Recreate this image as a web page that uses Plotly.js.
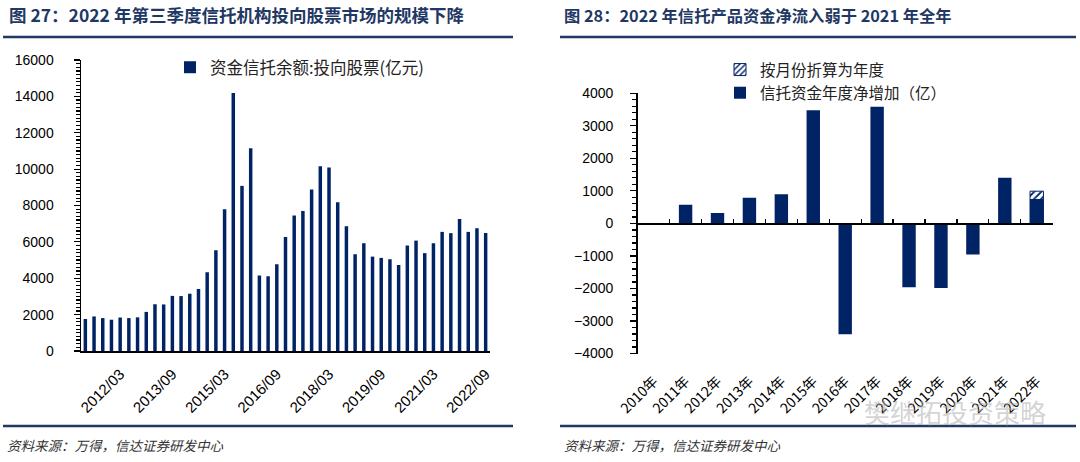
<!DOCTYPE html>
<html>
<head>
<meta charset="utf-8">
<script src="https://cdn.plot.ly/plotly-3.0.1.min.js"></script>
<style>html,body{margin:0;padding:0;background:#fff;}#chart{width:1080px;height:462px;}</style>
</head>
<body>
<div id="chart"></div>
<script>
// ---- Left chart data: 资金信托余额:投向股票(亿元), quarterly ----
const quarters = [
  '2011/03','2011/06','2011/09','2011/12',
  '2012/03','2012/06','2012/09','2012/12',
  '2013/03','2013/06','2013/09','2013/12',
  '2014/03','2014/06','2014/09','2014/12',
  '2015/03','2015/06','2015/09','2015/12',
  '2016/03','2016/06','2016/09','2016/12',
  '2017/03','2017/06','2017/09','2017/12',
  '2018/03','2018/06','2018/09','2018/12',
  '2019/03','2019/06','2019/09','2019/12',
  '2020/03','2020/06','2020/09','2020/12',
  '2021/03','2021/06','2021/09','2021/12',
  '2022/03','2022/06','2022/09'
];
const stockTrust = [
  1760, 1900, 1810, 1720,
  1840, 1810, 1850, 2150,
  2570, 2560, 3030, 3020,
  3150, 3410, 4330, 5540,
  7800, 14180, 9080, 11150,
  4150, 4110, 4770, 6270,
  7450, 7700, 8880, 10160,
  10090, 8180, 6860, 5320,
  5925, 5190, 5120, 5045,
  4730, 5800, 6070, 5380,
  5925, 6550, 6480, 7260,
  6550, 6750, 6490
];
const leftTickLabels = ['2012/03','2013/09','2015/03','2016/09','2018/03','2019/09','2021/03','2022/09'];

// ---- Right chart data: 信托资金年度净增加（亿） ----
const years = ['2010年','2011年','2012年','2013年','2014年','2015年','2016年','2017年','2018年','2019年','2020年','2021年','2022年'];
const netFlow = [0, 570, 320, 790, 900, 3480, -3410, 3590, -1960, -1990, -960, 1400, 750];
const annualized = [null, null, null, null, null, null, null, null, null, null, null, null, 990];

const navy = '#002366';
const titleColor = '#1F3864';
const axisFont = {family: 'Liberation Sans, Arial, sans-serif', size: 14, color: '#000'};
const cjk = 'Noto Sans CJK SC, sans-serif';

const W = 1080, H = 462;
const px = v => v / W;
const py = v => 1 - v / H;

const traces = [
  {
    type: 'bar', name: '资金信托余额:投向股票(亿元)',
    x: quarters, y: stockTrust,
    xaxis: 'x', yaxis: 'y', width: 0.4,
    marker: {color: navy},
    legend: 'legend', hoverinfo: 'skip'
  },
  {
    type: 'bar', name: '按月份折算为年度',
    x: years, y: annualized,
    xaxis: 'x2', yaxis: 'y2', width: 0.42,
    marker: {color: '#ffffff', line: {color: navy, width: 1},
             pattern: {shape: '/', fgcolor: navy, bgcolor: '#ffffff', size: 5, solidity: 0.35}},
    legend: 'legend2', hoverinfo: 'skip'
  },
  {
    type: 'bar', name: '信托资金年度净增加（亿）',
    x: years, y: netFlow,
    xaxis: 'x2', yaxis: 'y2', width: 0.42,
    marker: {color: navy},
    legend: 'legend2', hoverinfo: 'skip'
  },
  {
    type: 'scatter', mode: 'markers', x: years, y: netFlow,
    xaxis: 'x3', yaxis: 'y2', marker: {opacity: 0},
    showlegend: false, hoverinfo: 'skip'
  }
];

const rDomY = [py(353.5), py(93.3)];

const layout = {
  width: W, height: H,
  margin: {l: 0, r: 0, t: 0, b: 0},
  paper_bgcolor: '#fff', plot_bgcolor: 'rgba(0,0,0,0)',
  barmode: 'overlay',
  showlegend: true,
  xaxis: {
    domain: [px(81), px(490)], anchor: 'y', type: 'category',
    categoryorder: 'array', categoryarray: quarters,
    range: [-0.5, quarters.length - 0.5],
    tickmode: 'array', tickvals: leftTickLabels, ticktext: leftTickLabels,
    tickangle: -45, ticks: '', showline: true, linecolor: '#000', linewidth: 1.5,
    showgrid: false, tickfont: {family: 'Liberation Sans, Arial, sans-serif', size: 15, color: '#000'},
    ticklabelstandoff: 7, automargin: false
  },
  yaxis: {
    domain: [py(351), py(60)], anchor: 'x',
    range: [0, 16000], dtick: 2000, tick0: 0, tickformat: 'd',
    ticks: 'outside', ticklen: 6, tickcolor: '#000', tickwidth: 1.2,
    minor: {dtick: 200, tick0: 0, ticks: 'outside', ticklen: 4, tickcolor: '#000', tickwidth: 1.2, showgrid: false},
    showline: true, linecolor: '#000', linewidth: 1.5,
    showgrid: false, zeroline: false, tickfont: axisFont,
    ticklabelstandoff: 17, automargin: false
  },
  xaxis2: {
    domain: [px(637.7), px(1052.7)], anchor: 'free', position: (rDomY[0] + rDomY[1]) / 2,
    type: 'category', categoryorder: 'array', categoryarray: years,
    range: [-0.5, years.length - 0.5],
    showticklabels: false, ticks: 'inside', tickson: 'boundaries', ticklen: 4,
    tickcolor: '#000', tickwidth: 1.2,
    showline: true, linecolor: '#000', linewidth: 1.5, showgrid: false, automargin: false
  },
  xaxis3: {
    domain: [px(637.7), px(1052.7)], anchor: 'y2', overlaying: 'x2',
    type: 'category', categoryorder: 'array', categoryarray: years,
    range: [-0.5, years.length - 0.5],
    tickangle: -45, ticks: '', showline: false, showgrid: false,
    tickfont: {family: cjk, size: 14, color: '#000'},
    ticklabelstandoff: 16, automargin: false
  },
  yaxis2: {
    domain: rDomY, anchor: 'x2', position: px(637.7),
    range: [-4000, 4000], dtick: 1000, tick0: 0,
    ticks: 'outside', ticklen: 6, tickcolor: '#000', tickwidth: 1.2,
    minor: {dtick: 200, tick0: 0, ticks: 'outside', ticklen: 4, tickcolor: '#000', tickwidth: 1.2, showgrid: false},
    showline: true, linecolor: '#000', linewidth: 1.5,
    showgrid: false, zeroline: false, tickfont: axisFont,
    ticklabelstandoff: 14, automargin: false
  },
  legend: {
    x: px(170), y: py(50), xanchor: 'left', yanchor: 'top',
    bgcolor: 'rgba(0,0,0,0)', font: {family: cjk, size: 16.5, color: '#222'},
    itemclick: false
  },
  legend2: {
    x: px(720), y: py(53), xanchor: 'left', yanchor: 'top',
    bgcolor: 'rgba(0,0,0,0)', font: {family: cjk, size: 15.5, color: '#222'},
    traceorder: 'normal', tracegroupgap: 0, itemclick: false
  },
  annotations: [
    {text: '图 27：2022 年第三季度信托机构投向股票市场的规模下降', x: px(7), y: py(15),
     xref: 'paper', yref: 'paper', xanchor: 'left', yanchor: 'middle', showarrow: false,
     font: {family: cjk, size: 17.5, color: titleColor, weight: 'bold'}},
    {text: '图 28：2022 年信托产品资金净流入弱于 2021 年全年', x: px(562), y: py(15),
     xref: 'paper', yref: 'paper', xanchor: 'left', yanchor: 'middle', showarrow: false,
     font: {family: cjk, size: 16.3, color: titleColor, weight: 'bold'}},
    {text: '资料来源：万得，信达证券研发中心', x: px(5), y: py(445),
     xref: 'paper', yref: 'paper', xanchor: 'left', yanchor: 'middle', showarrow: false,
     font: {family: cjk, size: 13.5, color: '#333', style: 'italic'}},
    {text: '资料来源：万得，信达证券研发中心', x: px(562), y: py(445),
     xref: 'paper', yref: 'paper', xanchor: 'left', yanchor: 'middle', showarrow: false,
     font: {family: cjk, size: 13.5, color: '#333', style: 'italic'}},
    {text: '樊继拓投资策略', x: px(955), y: py(411),
     xref: 'paper', yref: 'paper', xanchor: 'center', yanchor: 'middle', showarrow: false,
     font: {family: cjk, size: 26, color: 'rgba(175,175,175,0.55)'}}
  ],
  shapes: [
    {type: 'line', xref: 'paper', yref: 'paper', x0: px(3), x1: px(513), y0: py(37), y1: py(37),
     line: {color: titleColor, width: 2.5}},
    {type: 'line', xref: 'paper', yref: 'paper', x0: px(560), x1: px(1076), y0: py(37), y1: py(37),
     line: {color: titleColor, width: 2.5}},
    {type: 'line', xref: 'paper', yref: 'paper', x0: px(3), x1: px(513), y0: py(426), y1: py(426),
     line: {color: titleColor, width: 2.5}},
    {type: 'line', xref: 'paper', yref: 'paper', x0: px(560), x1: px(1076), y0: py(426), y1: py(426),
     line: {color: titleColor, width: 2.5}}
  ]
};

Plotly.newPlot('chart', traces, layout, {staticPlot: true, displayModeBar: false});
</script>
</body>
</html>
